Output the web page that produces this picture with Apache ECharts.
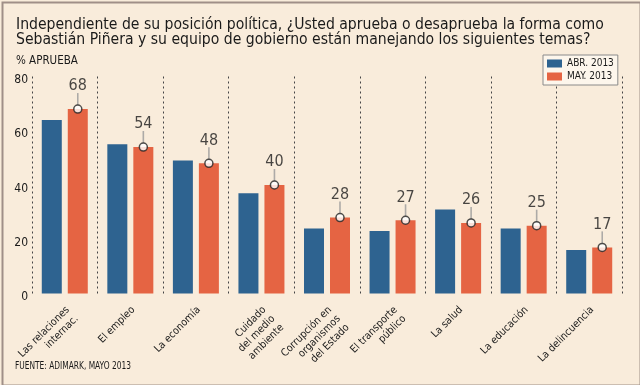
<!DOCTYPE html>
<html><head><meta charset="utf-8">
<script src="https://cdn.jsdelivr.net/npm/echarts@6/dist/echarts.min.js"></script>
<style>html,body{margin:0;padding:0;background:#f9ecdb}#c{width:640px;height:385px}</style>
</head><body><div id="c"></div>
<script>
const categories = ['Las relaciones\ninternac.', 'El empleo', 'La economía', 'Cuidado\ndel medio\nambiente', 'Corrupción en\norganismos\ndel Estado', 'El transporte\npúblico', 'La salud', 'La educación', 'La delincuencia'];
const abr2013 = [64, 55, 49, 37, 24, 23, 31, 24, 16];
const may2013 = [68, 54, 48, 40, 28, 27, 26, 25, 17];
const yTicks = [0, 20, 40, 60, 80];
const seriesNames = ['ABR. 2013', 'MAY. 2013'];
const titleText = 'Independiente de su posición política, ¿Usted aprueba o desaprueba la forma como\nSebastián Piñera y su equipo de gobierno están manejando los siguientes temas?';
const unitText = '% APRUEBA';
const sourceText = 'FUENTE: ADIMARK, MAYO 2013';

const FONT = '"DejaVu Sans Condensed", "DejaVu Sans", sans-serif';
const chart = echarts.init(document.getElementById('c'), null, {renderer: 'canvas'});
chart.setOption({
  backgroundColor: '#f9ecdb',
  animation: false,
  textStyle: {fontFamily: FONT},
  title: [
    {text: titleText, left: 16, top: 17, padding: 0,
     textStyle: {fontFamily: FONT, fontSize: 15.6, fontWeight: 'normal', color: '#1a1a1a', lineHeight: 15.5}},
    {text: unitText, left: 16, top: 55, padding: 0,
     textStyle: {fontFamily: FONT, fontSize: 11.5, fontWeight: 'normal', color: '#1a1a1a'}}
  ],
  legend: {
    data: seriesNames, orient: 'vertical', left: 543, top: 55,
    backgroundColor: '#fdf6ec', borderColor: '#8a8a8a', borderWidth: 1,
    padding: [3, 4, 3, 4], itemWidth: 15, itemHeight: 8, itemGap: 2,
    icon: 'rect',
    textStyle: {fontFamily: FONT, fontSize: 10, lineHeight: 11, color: '#1a1a1a'}
  },
  grid: {left: 32, right: 18, top: 76.5, bottom: 91.5, containLabel: false},
  xAxis: {
    type: 'category', data: categories,
    axisLine: {show: false}, axisTick: {show: false},
    splitLine: {show: true, lineStyle: {color: '#444', width: 1, type: [2, 3]}},
    axisLabel: {interval: 0, rotate: 45, margin: 9, verticalAlign: 'top', padding: [0, 2, 0, 0],
      fontFamily: FONT, fontSize: 10.5, lineHeight: 12.5, color: '#1a1a1a'}
  },
  yAxis: {
    type: 'value', min: 0, max: 80, interval: 20,
    axisLine: {show: false}, axisTick: {show: false}, splitLine: {show: false},
    axisLabel: {margin: 4, verticalAlign: 'top', lineHeight: 7, fontFamily: FONT, fontSize: 12, color: '#1a1a1a',
      formatter: v => yTicks.includes(v) ? String(v) : ''}
  },
  series: [
    {name: seriesNames[0], type: 'bar', data: abr2013, barWidth: 20, barGap: '30%',
     itemStyle: {color: '#2e6390'}},
    {name: seriesNames[1], type: 'bar', data: may2013, barWidth: 20,
     itemStyle: {color: '#e56443'}},
    {name: 'stem', type: 'scatter', data: may2013, symbol: 'rect', symbolSize: [1.6, 12],
     symbolOffset: [13, -10], itemStyle: {color: '#9a9a9a'}, z: 5, silent: true},
    {name: 'dot', type: 'scatter', data: may2013, symbol: 'circle', symbolSize: 8,
     symbolOffset: [13, 0], z: 6, silent: true,
     itemStyle: {color: '#ffffff', borderColor: '#222', borderWidth: 1.5},
     label: {show: true, position: 'top', distance: 10, fontFamily: FONT, fontSize: 16, color: '#1a1a1a',
       formatter: p => String(p.value)}}
  ],
  graphic: [
    {type: 'text', left: 15, top: 361, silent: true, scaleX: 0.83,
     style: {text: sourceText, font: '10px "DejaVu Sans Condensed", sans-serif', fill: '#1a1a1a'}},
    {type: 'rect', left: 0, top: 0, z: 100, silent: true,
     shape: {x: 1, y: 1, width: 638, height: 383},
     style: {fill: 'none', stroke: '#a08f88', lineWidth: 2}}
  ]
});
</script></body></html>
